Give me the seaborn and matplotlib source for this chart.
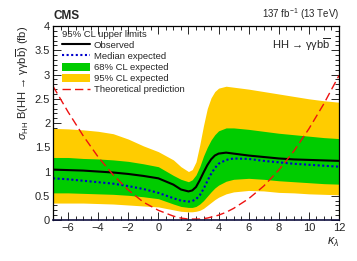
import numpy as np
import pandas as pd
import matplotlib
matplotlib.use("Agg")
import matplotlib.pyplot as plt
import seaborn as sns
from matplotlib.patches import Patch
from matplotlib.lines import Line2D
from matplotlib.ticker import MultipleLocator

# kappa_lambda scan points
kappa = [-7, -6, -5, -4, -3, -2, -1, 0, 1, 1.5, 2, 2.25, 2.5, 2.75, 3, 3.25,
         3.5, 3.75, 4, 4.5, 5, 6, 7, 8, 9, 10, 11, 12]
observed = [1.04, 1.03, 1.02, 1.00, 0.98, 0.95, 0.91, 0.86, 0.73, 0.63, 0.59,
            0.61, 0.68, 0.82, 0.98, 1.13, 1.25, 1.33, 1.37, 1.39, 1.37, 1.33,
            1.30, 1.27, 1.25, 1.24, 1.23, 1.22]
median_exp = [0.86, 0.84, 0.81, 0.78, 0.75, 0.70, 0.64, 0.56, 0.45, 0.40, 0.38,
              0.39, 0.43, 0.51, 0.64, 0.80, 0.95, 1.07, 1.16, 1.24, 1.27, 1.26,
              1.22, 1.19, 1.16, 1.14, 1.12, 1.10]
band68_up = [1.29, 1.29, 1.27, 1.26, 1.24, 1.21, 1.16, 1.10, 0.92, 0.84, 0.79,
             0.83, 0.93, 1.10, 1.32, 1.50, 1.65, 1.76, 1.84, 1.90, 1.90, 1.87,
             1.83, 1.79, 1.76, 1.73, 1.70, 1.68]
band68_dn = [0.56, 0.56, 0.55, 0.54, 0.53, 0.51, 0.48, 0.44, 0.33, 0.28, 0.26,
             0.26, 0.28, 0.33, 0.40, 0.49, 0.58, 0.66, 0.72, 0.80, 0.84, 0.86,
             0.84, 0.81, 0.79, 0.77, 0.75, 0.74]
band95_up = [1.89, 1.88, 1.86, 1.83, 1.78, 1.67, 1.53, 1.41, 1.24, 1.10, 1.00,
             1.04, 1.20, 1.55, 1.95, 2.30, 2.52, 2.65, 2.72, 2.76, 2.74, 2.70,
             2.65, 2.60, 2.55, 2.50, 2.46, 2.43]
band95_dn = [0.35, 0.35, 0.35, 0.34, 0.33, 0.31, 0.29, 0.27, 0.21, 0.18, 0.17,
             0.17, 0.18, 0.20, 0.24, 0.30, 0.36, 0.42, 0.47, 0.54, 0.58, 0.61,
             0.60, 0.57, 0.56, 0.54, 0.53, 0.52]
theory = [2.76, 2.23, 1.74, 1.30, 0.93, 0.62, 0.37, 0.20, 0.08, 0.04, 0.02,
          0.02, 0.02, 0.02, 0.03, 0.04, 0.06, 0.08, 0.10, 0.16, 0.24, 0.44,
          0.70, 1.03, 1.42, 1.88, 2.40, 2.98]

df = pd.DataFrame({"kappa": kappa, "obs": observed, "exp": median_exp,
                   "up68": band68_up, "dn68": band68_dn,
                   "up95": band95_up, "dn95": band95_dn, "th": theory})

sns.set_style("ticks")
plt.rcParams["font.family"] = ["Liberation Sans", "DejaVu Sans"]
plt.rcParams["mathtext.fontset"] = "custom"
plt.rcParams["mathtext.rm"] = "Liberation Sans"
plt.rcParams["mathtext.it"] = "Liberation Sans:italic"

fig = plt.figure(figsize=(3.57, 2.61), dpi=100)
ax = fig.add_axes([0.1485, 0.157, 0.801, 0.743])

yellow = "#ffcc00"
green = "#00cc00"
ax.fill_between(df["kappa"], df["dn95"], df["up95"], color=yellow, lw=0)
ax.fill_between(df["kappa"], df["dn68"], df["up68"], color=green, lw=0)
sns.lineplot(data=df, x="kappa", y="obs", color="black", lw=1.5, ax=ax)
sns.lineplot(data=df, x="kappa", y="exp", color="#0000cc", lw=1.5, ax=ax,
             linestyle=(0, (1, 1.2)))
sns.lineplot(data=df, x="kappa", y="th", color="#ee1111", lw=1.0, ax=ax,
             linestyle=(0, (6, 3)))

ax.set_xlim(-7, 12)
ax.set_ylim(0, 4)
ax.xaxis.set_major_locator(MultipleLocator(2))
ax.xaxis.set_minor_locator(MultipleLocator(0.5))
ax.yaxis.set_minor_locator(MultipleLocator(0.1))
ax.set_yticks([0, 0.5, 1, 1.5, 2, 2.5, 3, 3.5, 4])
ax.set_yticklabels(["0", "0.5", "1", "1.5", "2", "2.5", "3", "3.5", "4"])
ax.tick_params(which="both", direction="in", top=True, right=True,
               labelsize=8, pad=2, width=0.7)
ax.tick_params(which="major", length=6)
ax.tick_params(which="minor", length=3)
for s in ax.spines.values():
    s.set_linewidth(0.9)
    s.set_color("black")
ax.spines["bottom"].set_color("#101040")
ax.spines["bottom"].set_linewidth(1.2)

ax.set_xlabel(r"$\kappa_{\lambda}$", fontsize=9, loc="right", labelpad=2)
ax.set_ylabel(r"$\sigma_{\mathrm{HH}}$ B(HH → γγb$\overline{\mathrm{b}}$) (fb)",
              fontsize=8, loc="top", labelpad=3)

fig.text(0.1485, 0.915, "CMS", fontsize=8.5, fontweight="bold", ha="left", va="bottom")
fig.text(0.95, 0.915, r"137 fb$^{-1}$ (13 TeV)", fontsize=7, ha="right", va="bottom")
ax.text(0.97, 0.95, r"HH → γγb$\overline{\mathrm{b}}$", transform=ax.transAxes,
        fontsize=8, ha="right", va="top")

handles = [
    Line2D([], [], color="black", lw=1.5),
    Line2D([], [], color="#0000cc", lw=1.5, linestyle=(0, (1, 1.2))),
    Patch(facecolor=green, edgecolor="none"),
    Patch(facecolor=yellow, edgecolor="none"),
    Line2D([], [], color="#ee1111", lw=1.0, linestyle=(0, (6, 3))),
]
labels = ["Observed", "Median expected", "68% CL expected", "95% CL expected",
          "Theoretical prediction"]
leg = ax.legend(handles, labels, title="95% CL upper limits", loc="upper left",
                bbox_to_anchor=(0.01, 1.01), frameon=False, fontsize=6.8,
                title_fontsize=6.8, handlelength=3.0, handleheight=0.9,
                labelspacing=0.2, borderaxespad=0.2, handletextpad=0.4)
leg._legend_box.align = "left"

fig.savefig("out.png", dpi=100)
